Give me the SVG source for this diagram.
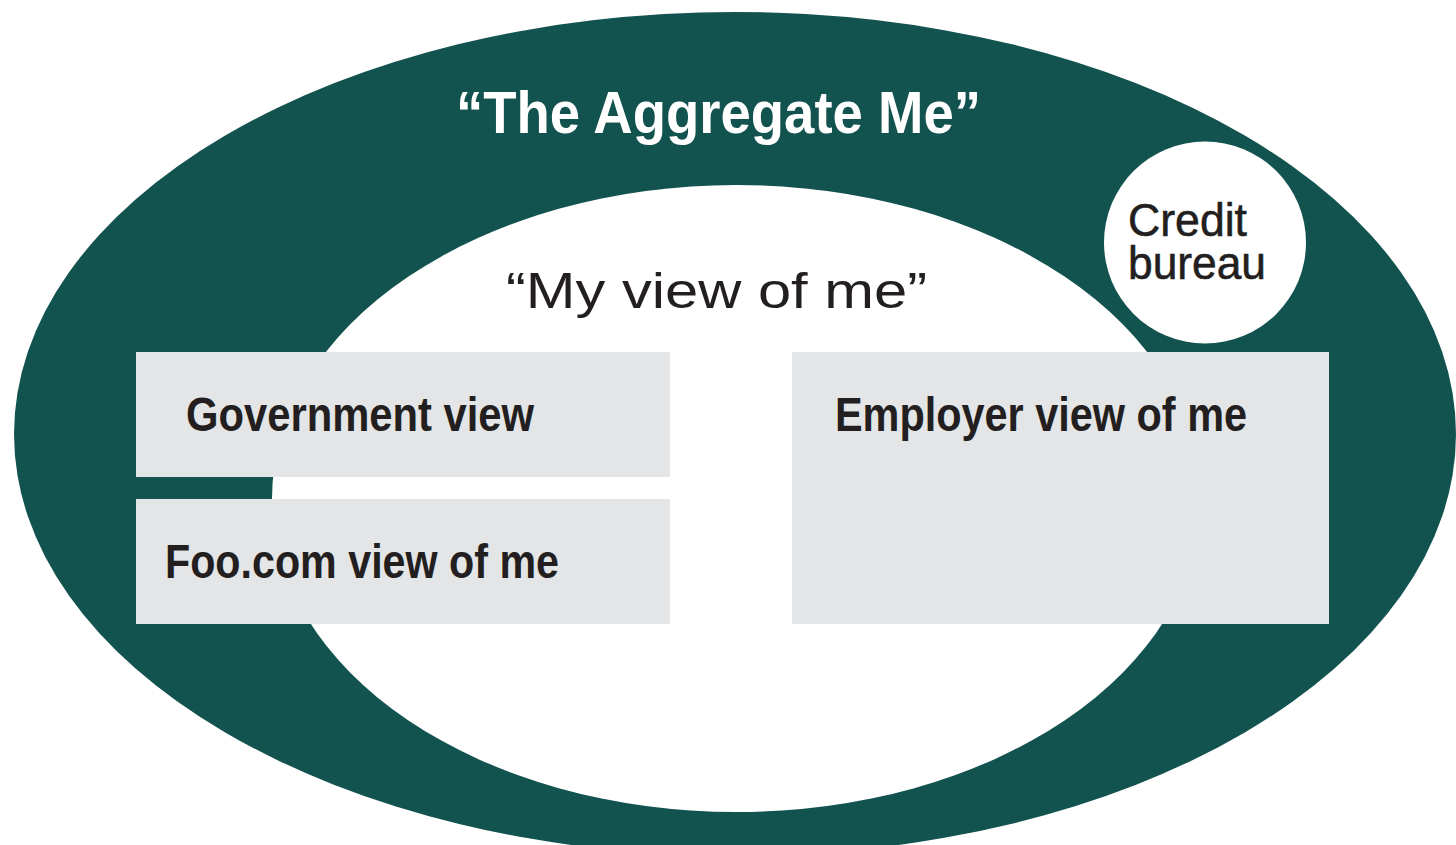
<svg xmlns="http://www.w3.org/2000/svg" width="1456" height="845" viewBox="0 0 1456 845">
  <style>
    .teal { fill: #12524f; }
    .white { fill: #ffffff; }
    .box { fill: #e4e5e7; }
    .t { font-family: "Liberation Sans", Arial, sans-serif; fill: #231f20; }
    .title { font-family: "Liberation Sans", Arial, sans-serif; fill: #ffffff; font-weight: bold; font-size: 59px; }
    .sub { font-size: 50px; }
    .lbl { font-size: 48px; font-weight: bold; }
    .cb { font-size: 46px; stroke: #231f20; stroke-width: 0.6; }
  </style>
  <rect x="0" y="0" width="1456" height="845" fill="#ffffff"/>
  <g id="aggregate-me">
    <ellipse class="teal" cx="735" cy="434" rx="721" ry="422"/>
    <text class="title" x="456" y="133" textLength="525" lengthAdjust="spacingAndGlyphs">“The Aggregate Me”</text>
  </g>
  <g id="my-view">
    <ellipse class="white" cx="736.5" cy="498.5" rx="464.5" ry="313.5"/>
    <text class="t sub" x="506" y="308" textLength="421" lengthAdjust="spacingAndGlyphs">“My view of me”</text>
  </g>
  <g id="credit-bureau">
    <circle class="white" cx="1205" cy="242.5" r="101"/>
    <text class="t cb"><tspan x="1128" y="236" textLength="119" lengthAdjust="spacingAndGlyphs">Credit</tspan><tspan x="1128" y="279" textLength="138" lengthAdjust="spacingAndGlyphs">bureau</tspan></text>
  </g>
  <g id="government-view">
    <rect class="box" x="136" y="352" width="534" height="125"/>
    <text class="t lbl" x="186" y="431" textLength="348" lengthAdjust="spacingAndGlyphs">Government view</text>
  </g>
  <g id="foo-view">
    <rect class="box" x="136" y="499" width="534" height="125"/>
    <text class="t lbl" x="165" y="578" textLength="394" lengthAdjust="spacingAndGlyphs">Foo.com view of me</text>
  </g>
  <g id="employer-view">
    <rect class="box" x="792" y="352" width="537" height="272"/>
    <text class="t lbl" x="835" y="431" textLength="412" lengthAdjust="spacingAndGlyphs">Employer view of me</text>
  </g>
  <g id="connectors"/>
</svg>
